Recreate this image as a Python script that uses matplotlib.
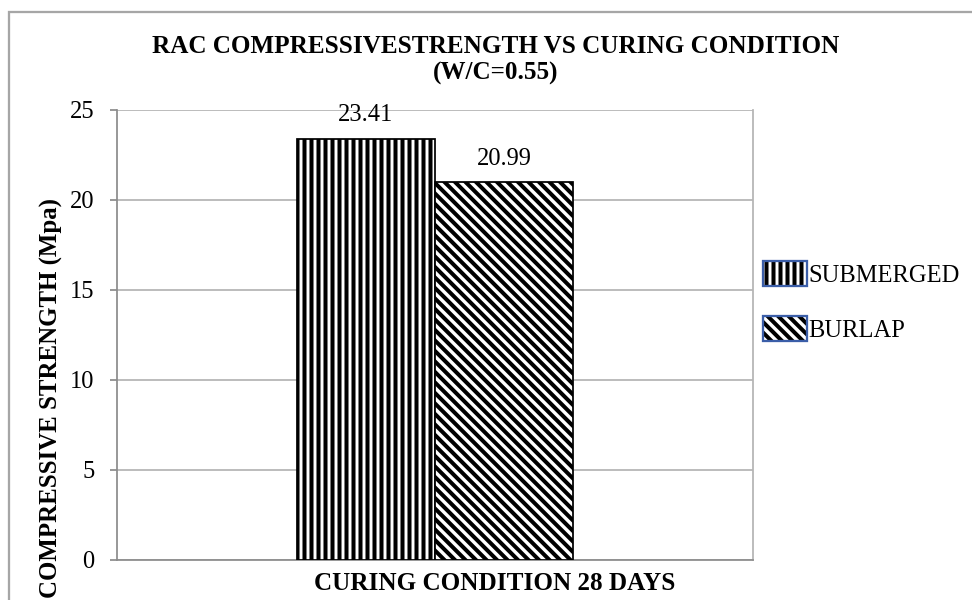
import numpy as np
import matplotlib.pyplot as plt
from matplotlib.patches import Patch, Rectangle

# Compressive strength of RAC at 28 days, per curing condition
series = ["SUBMERGED", "BURLAP"]
strength = [23.41, 20.99]
hatches = ["|||", "\\\\\\\\"]
y_ticks = [0, 5, 10, 15, 20, 25]

W, H, DPI = 972, 600, 126

plt.rcParams["font.family"] = ["Liberation Serif", "DejaVu Serif"]
plt.rcParams["hatch.linewidth"] = 2.3
plt.rcParams["hatch.color"] = "black"


def fx(px):
    return px / W


def fy(py):
    return 1 - py / H


fig = plt.figure(figsize=(W / DPI, H / DPI), dpi=DPI)
ax = fig.add_axes([fx(117), fy(560), fx(753) - fx(117), fy(110) - fy(560)])

# chart area border (runs off the right and bottom edges)
fig.add_artist(Rectangle((fx(9), fy(700)), 1.2, fy(12) - fy(700),
                         transform=fig.transFigure, fill=False,
                         edgecolor="#a6a6a6", linewidth=1.3))

bar_w = 0.217
x = np.array([-0.5, 0.5]) * bar_w
for xi, val, h in zip(x, strength, hatches):
    bars = ax.bar(xi, val, width=bar_w, color="white", edgecolor="black",
                  hatch=h, linewidth=1.0, zorder=3)
    ax.bar_label(bars, labels=[f"{val:.2f}"], padding=7, fontsize=14)

ax.set_xlim(-0.5, 0.5)
ax.set_ylim(0, 25)
ax.set_yticks(y_ticks)
ax.set_xticks([])
ax.grid(axis="y", color="#b4b4b4", linewidth=1.0, zorder=0)
ax.tick_params(axis="y", length=4, width=1.0, color="#8c8c8c",
               labelsize=14, pad=9)
for side in ["left", "bottom", "right"]:
    ax.spines[side].set_color("#8c8c8c")
    ax.spines[side].set_linewidth(1.0)
ax.spines["right"].set_color("#b4b4b4")
ax.spines["top"].set_visible(False)

fig.text(fx(496), fy(60), "RAC COMPRESSIVESTRENGTH VS CURING CONDITION\n(W/C=0.55)",
         ha="center", va="center", fontsize=14.4, fontweight="bold",
         linespacing=1.15)
fig.text(fx(495), fy(584), "CURING CONDITION 28 DAYS", ha="center",
         va="center", fontsize=14.4, fontweight="bold")
fig.text(fx(51), fy(398), "COMPRESSIVE STRENGTH (Mpa)", ha="center",
         va="center", rotation=90, fontsize=14.2, fontweight="bold")

handles = []
for h in hatches:
    handles.append((Patch(facecolor="white", edgecolor="black", hatch=h, linewidth=0),
                    Patch(facecolor="none", edgecolor="#3b5ea8", linewidth=1.3)))
fig.legend(handles, series, loc="upper left",
           bbox_to_anchor=(fx(763), fy(261)), bbox_transform=fig.transFigure,
           frameon=False, fontsize=14, borderpad=0, borderaxespad=0,
           handlelength=1.8, handleheight=1.2, handletextpad=0.05,
           labelspacing=1.2)

fig.savefig("out.png", dpi=DPI)
